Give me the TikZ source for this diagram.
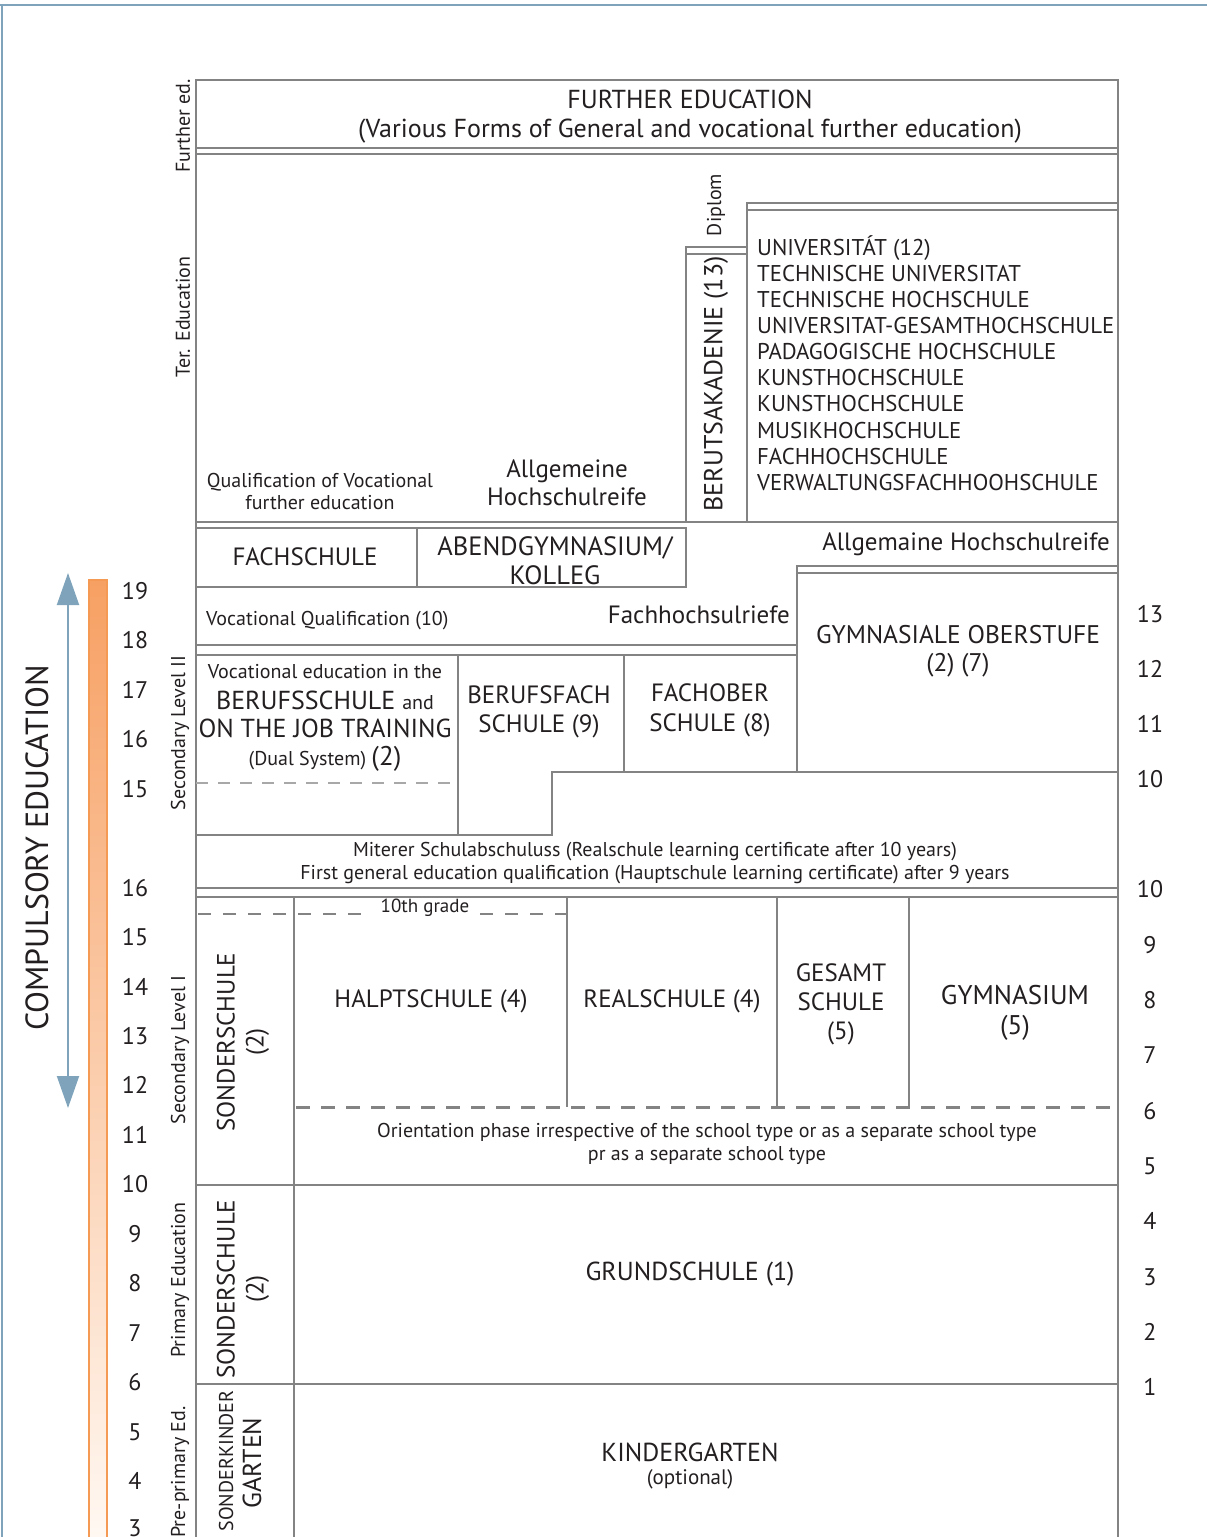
\documentclass[tikz,border=0pt]{standalone}
\usepackage{fontspec}
\setmainfont{PT Sans}
\usetikzlibrary{arrows.meta}
\definecolor{ln}{HTML}{838383}
\definecolor{tx}{HTML}{231F20}
\definecolor{bl}{HTML}{7EA3BB}
\definecolor{orA}{HTML}{F7A063}
\definecolor{orB}{HTML}{FFF8F2}
\definecolor{orL}{HTML}{F59A55}
\newcommand{\fsz}[2]{\fontsize{#1}{#2}\selectfont}
\tikzset{
  frame/.style={draw=ln, line width=2.6},
  lbl/.style={text=tx, inner sep=0, align=center},
  side/.style={text=tx, inner sep=0, rotate=90, font=\fsz{20}{22}},
  age/.style={text=tx, inner sep=0, font=\fsz{24}{26}},
  thindash/.style={draw=ln!70, line width=1.2, dash pattern=on 12 off 10},
  middash/.style={draw=ln, line width=1.6, dash pattern=on 13 off 12},
  thickdash/.style={draw=ln, line width=3, dash pattern=on 14 off 11},
}
\begin{document}
\begin{tikzpicture}[x=1pt,y=-1pt]
\useasboundingbox (0,0) rectangle (1207,1537);
% page frame
\draw[bl, line width=2] (0,5) -- (1207,5);
\draw[bl, line width=2] (2,5) -- (2,1537);

% ---- frame lines ----
\draw[frame] (196,1537) -- (196,80) -- (1118,80) -- (1118,1537);
\draw[frame] (196,148) -- (1118,148);
\draw[frame] (196,154) -- (1118,154);
% university block
\draw[frame] (747,522) -- (747,203) -- (1118,203);
\draw[frame] (747,210) -- (1118,210);
% berufsakademie
\draw[frame] (686,522) -- (686,247) -- (747,247);
\draw[frame] (686,254) -- (747,254);
\draw[frame] (196,522) -- (1118,522);
% fachschule / abendgymnasium
\draw[frame] (196,528) -- (686,528) -- (686,587) -- (196,587);
\draw[frame] (417,528) -- (417,587);
% gymnasiale oberstufe
\draw[frame] (797,772) -- (797,566) -- (1118,566);
\draw[frame] (797,573) -- (1118,573);
\draw[frame] (196,645) -- (797,645);
\draw[frame] (196,655) -- (797,655);
\draw[frame] (458,655) -- (458,835);
\draw[frame] (624,655) -- (624,772);
\draw[frame] (1118,772) -- (552,772) -- (552,835) -- (196,835);
\draw[thindash] (196,783) -- (458,783);
\draw[frame] (196,888) -- (1118,888);
\draw[frame] (196,897) -- (1118,897);
% secondary I
\draw[frame] (294,897) -- (294,1537);
\draw[frame] (567,897) -- (567,1107);
\draw[frame] (777,897) -- (777,1107);
\draw[frame] (909,897) -- (909,1107);
\draw[middash] (198,914) -- (372,914);
\draw[middash] (480,914) -- (567,914);
\draw[thickdash] (296,1107) -- (1116,1107);
\draw[frame] (196,1185) -- (1118,1185);
\draw[frame] (196,1384) -- (1118,1384);

% ---- texts ----
\node[lbl, font=\fsz{26}{29}] (further) at (690,117) {FURTHER EDUCATION\\(Various Forms of General and vocational further education)};
\node[lbl, align=left, anchor=west, font=\fsz{22.8}{26.1}] (univ) at (757,363) {UNIVERSITÁT (12)\\TECHNISCHE UNIVERSITAT\\TECHNISCHE HOCHSCHULE\\UNIVERSITAT-GESAMTHOCHSCHULE\\PADAGOGISCHE HOCHSCHULE\\KUNSTHOCHSCHULE\\KUNSTHOCHSCHULE\\MUSIKHOCHSCHULE\\FACHHOCHSCHULE\\VERWALTUNGSFACHHOOHSCHULE};
\node[lbl, rotate=90, font=\fsz{26}{28}] (berak) at (716,384) {BERUTSAKADENIE (13)};
\node[lbl, rotate=90, font=\fsz{20}{22}] (diplom) at (716,205) {Diplom};
\node[lbl, font=\fsz{20}{22}] (qualvoc) at (320,491) {Qualification of Vocational\\further education};
\node[lbl, font=\fsz{25}{28}] (allg1) at (567,483) {Allgemeine\\Hochschulreife};
\node[lbl, font=\fsz{25}{28}] (fachschule) at (305,557) {FACHSCHULE};
\node[lbl, font=\fsz{26.5}{29}] (abend) at (555,561) {ABENDGYMNASIUM/\\KOLLEG};
\node[lbl, anchor=west, font=\fsz{20}{22}] (vocq) at (206,621) {Vocational Qualification (10)};
\node[lbl, anchor=east, font=\fsz{25}{28}] (fhr) at (790,615) {Fachhochsulriefe};
\node[lbl, anchor=east, font=\fsz{25}{28}] (allg2) at (1110,544) {Allgemaine Hochschulreife};
\node[lbl, font=\fsz{25.5}{28}] (gymob) at (958,651) {GYMNASIALE OBERSTUFE\\(2) (7)};
\node[lbl, font=\fsz{20}{22}] (dual1) at (325,672) {Vocational education in the};
\node[lbl, font=\fsz{26}{28}] (dual2) at (325,700) {BERUFSSCHULE {\fsz{20}{22}and}};
\node[lbl, font=\fsz{26}{28}] (dual3) at (325,728) {ON THE JOB TRAINING};
\node[lbl, font=\fsz{20}{22}] (dual4) at (325,759) {(Dual System) {\fsz{27}{28}(2)}};
\node[lbl, font=\fsz{25}{29}] (berfach) at (539,712) {BERUFSFACH\\SCHULE (9)};
\node[lbl, font=\fsz{25}{30}] (fachober) at (710,710) {FACHOBER\\SCHULE (8)};
\node[lbl, font=\fsz{20}{22.5}] (miterer) at (655,863) {Miterer Schulabschuluss (Realschule learning certificate after 10 years)\\First general education qualification (Hauptschule learning certificate) after 9 years};
\node[lbl, font=\fsz{19}{22}] (grade10) at (425,908) {10th grade};
\node[lbl, font=\fsz{25}{28}] (haupt) at (431,1001) {HALPTSCHULE (4)};
\node[lbl, font=\fsz{25}{28}] (real) at (672,1001) {REALSCHULE (4)};
\node[lbl, font=\fsz{25}{29}] (gesamt) at (841,1004) {GESAMT\\SCHULE\\(5)};
\node[lbl, font=\fsz{27}{30}] (gymn) at (1015,1013) {GYMNASIUM\\(5)};
\node[lbl, font=\fsz{20}{23}] (orient) at (707,1144) {Orientation phase irrespective of the school type or as a separate school type\\pr as a separate school type};
\node[lbl, rotate=90, font=\fsz{25}{29}] (sonder1) at (243,1042) {SONDERSCHULE\\(2)};
\node[lbl, rotate=90, font=\fsz{25}{29}] (sonder2) at (243,1289) {SONDERSCHULE\\(2)};
\node[lbl, rotate=90, font=\fsz{20}{22}] (sonderk1) at (226,1461) {SONDERKINDER};
\node[lbl, rotate=90, font=\fsz{26}{28}] (sonderk2) at (252,1463) {GARTEN};
\node[lbl, font=\fsz{26}{28}] (grund) at (690,1274) {GRUNDSCHULE (1)};
\node[lbl, font=\fsz{26}{28}] (kinder) at (690,1452) {KINDERGARTEN};
\node[lbl, font=\fsz{21}{22}] (optional) at (690,1479) {(optional)};

% side labels
\node[side] (sfurther) at (183,126) {Further ed.};
\node[side] (ster) at (183,317) {Ter. Education};
\node[side] (ssec2) at (180,733) {Secondary Level II};
\node[side] (ssec1) at (180,1050) {Secondary Level I};
\node[side] (sprim) at (180,1280) {Primary Education};
\node[side] (spre) at (180,1472) {Pre-primary Ed.};

% ages (left)
\foreach \a/\y [count=\i] in {19/591,18/640,17/690,16/739,15/789,16/888,15/937,14/987,13/1036,12/1085,11/1135,10/1184,9/1234,8/1283,7/1333,6/1382,5/1432,4/1481,3/1528}
  \node[age] (age\i) at (135,\y) {\a};
% grades (right)
\foreach \g/\y [count=\i] in {13/614,12/669,11/724,10/779,10/889,9/945,8/1000,7/1055,6/1111,5/1166,4/1221,3/1277,2/1332,1/1387}
  \node[age] (grd\i) at (1150,\y) {\g};

% orange bar
\shade[top color=orA, bottom color=orB] (89,580) rectangle (107,1537);
\draw[orL, line width=1.2] (89,1537) -- (89,580) -- (107,580) -- (107,1537);

% compulsory arrow
\coordinate (ctop) at (68,573);
\coordinate (cbot) at (68,1108);
\draw[bl, line width=2, {Triangle[width=22pt,length=32pt]}-{Triangle[width=22pt,length=32pt]}] (ctop) -- (cbot);
\node[lbl, rotate=90, font=\fsz{32}{34}] (compulsory) at (37,848) {COMPULSORY EDUCATION};
\end{tikzpicture}
\end{document}
